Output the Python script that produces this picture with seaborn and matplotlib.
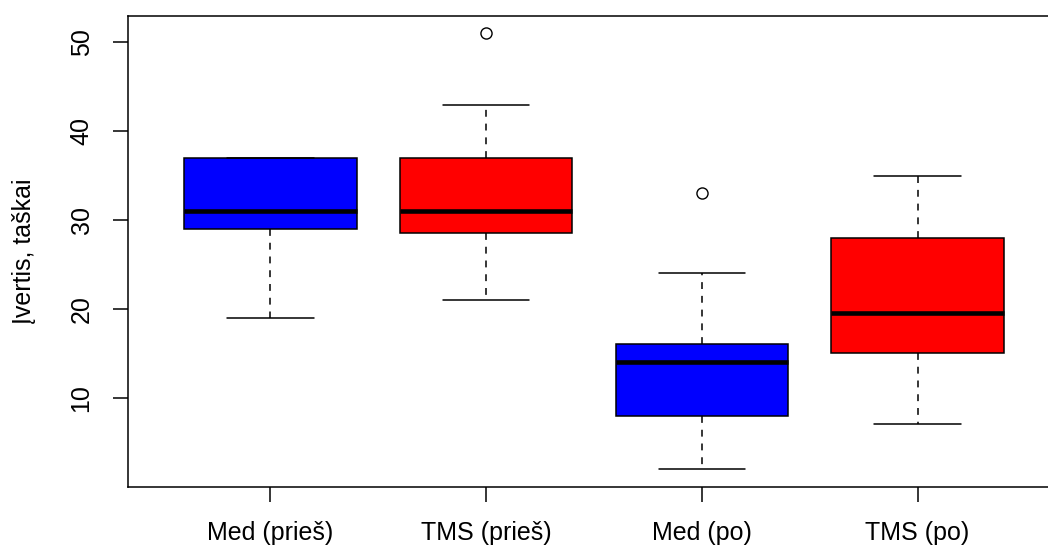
"""
Boxplot of scores before and after (Med vs TMS groups), R-style look.
"""

import matplotlib
matplotlib.use("Agg")
import matplotlib.pyplot as plt
import seaborn as sns
import pandas as pd

# Data (scores)
groups = ["Med (prieš)", "TMS (prieš)", "Med (po)", "TMS (po)"]
med_pries = [19, 25, 29, 30, 31, 34, 37, 37, 37]
tms_pries = [21, 26, 28.5, 30, 31, 35, 37, 43, 51]
med_po = [2, 5, 8, 12, 14, 15, 16, 24, 33]
tms_po = [7, 12, 15, 17, 19.5, 24, 28, 32, 35]
box_colors = ["#0000FF", "#FF0000", "#0000FF", "#FF0000"]
y_ticks = [10, 20, 30, 40, 50]
y_label = "Įvertis, taškai"

# Style
sns.set_style("ticks")
plt.rcParams['font.family'] = ['Liberation Sans', 'DejaVu Sans']
plt.rcParams['font.size'] = 18
plt.rcParams['text.color'] = 'black'
plt.rcParams['axes.edgecolor'] = 'black'
plt.rcParams['axes.labelcolor'] = 'black'
plt.rcParams['xtick.color'] = 'black'
plt.rcParams['ytick.color'] = 'black'

df = pd.DataFrame({
    "grupe": [g for g, vals in zip(groups, [med_pries, tms_pries, med_po, tms_po]) for _ in vals],
    "ivertis": med_pries + tms_pries + med_po + tms_po,
})

fig = plt.figure(figsize=(10.48, 5.47), dpi=100)
ax = fig.add_axes([128 / 1048, 60 / 547, 932 / 1048, 471 / 547])

sns.boxplot(
    data=df, x="grupe", y="ivertis", hue="grupe", order=groups, hue_order=groups,
    palette=box_colors, saturation=1, width=0.8, legend=False,
    linecolor="black", linewidth=1.1, ax=ax,
    whiskerprops=dict(linestyle=(0, (4.5, 4.5)), color="black", linewidth=1.1),
    capprops=dict(color="black", linewidth=1.1),
    medianprops=dict(color="black", linewidth=3.3),
    flierprops=dict(marker="o", markerfacecolor="none", markeredgecolor="black",
                    markersize=8, markeredgewidth=1.0),
    capwidths=0.4,
)

ax.set_xlim(-0.66, 3.66)
ax.set_ylim(-0.04, 52.96)
ax.set_yticks(y_ticks, labels=[str(t) for t in y_ticks], rotation=90, va="center")
ax.set_xlabel("")
ax.set_ylabel(y_label, fontsize=18, labelpad=24)

for side in ["top", "bottom", "left", "right"]:
    ax.spines[side].set_visible(True)
    ax.spines[side].set_linewidth(1.1)
ax.tick_params(axis="both", length=10.8, width=1.1, labelsize=18)
ax.tick_params(axis="y", pad=14)
ax.tick_params(axis="x", pad=14)

fig.savefig("out.png", dpi=100)
plt.close()
